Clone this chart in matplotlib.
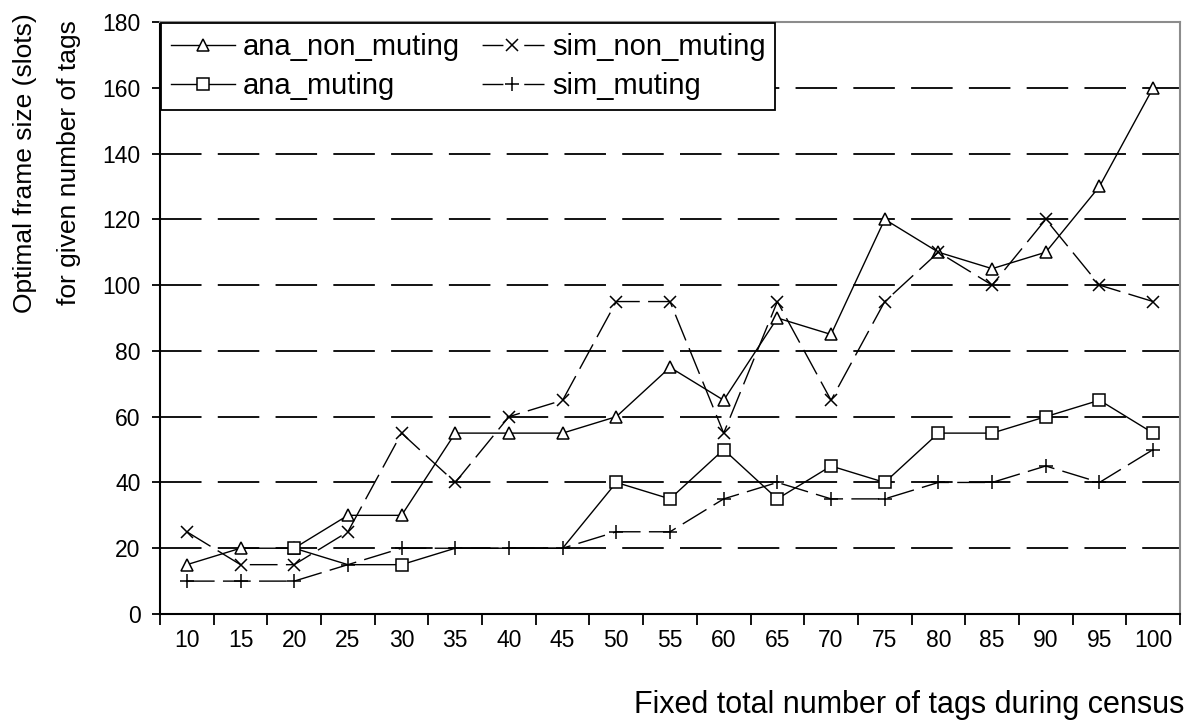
import matplotlib
matplotlib.use("Agg")
import matplotlib.pyplot as plt
import numpy as np

plt.rcParams["font.family"] = ["Liberation Sans", "DejaVu Sans"]

# ── data ──────────────────────────────────────────────────────────────────────
tags = [10, 15, 20, 25, 30, 35, 40, 45, 50, 55, 60, 65, 70, 75, 80, 85, 90, 95, 100]
ana_non_muting = [15, 20, 20, 30, 30, 55, 55, 55, 60, 75, 65, 90, 85, 120, 110, 105, 110, 130, 160]
sim_non_muting = [25, 15, 15, 25, 55, 40, 60, 65, 95, 95, 55, 95, 65, 95, 110, 100, 120, 100, 95]
ana_muting = [np.nan, np.nan, 20, 15, 15, 20, 20, 20, 40, 35, 50, 35, 45, 40, 55, 55, 60, 65, 55]
sim_muting = [10, 10, 10, 15, 20, 20, 20, 20, 25, 25, 35, 40, 35, 35, 40, 40, 45, 40, 50]
y_ticks = [0, 20, 40, 60, 80, 100, 120, 140, 160, 180]

x = np.arange(len(tags))

fig = plt.figure(figsize=(11.98, 7.26), dpi=100)
ax = fig.add_axes([160 / 1198, 112 / 726, 1020 / 1198, 592 / 726])

# ── gridlines ─────────────────────────────────────────────────────────────────
for v in y_ticks[1:]:
    ax.axhline(v, color="black", lw=1.3, ls=(0, (23, 9)), zorder=1)

line_kw = dict(color="black", lw=1.0, mfc="white", mec="black", mew=1.1, zorder=3)
dash = (0, (20, 6))

ax.plot(x, ana_non_muting, ls="-", marker="^", ms=9, label="ana_non_muting", **line_kw)
ax.plot(x, ana_muting, ls="-", marker="s", ms=9, label="ana_muting",
        markevery=[2, 4] + list(range(8, 19)), **line_kw)
ax.plot(x, sim_non_muting, ls=dash, marker="x", ms=8, label="sim_non_muting", **line_kw)
ax.plot(x, sim_muting, ls=dash, marker="+", ms=10, label="sim_muting", **line_kw)

# ── axes ──────────────────────────────────────────────────────────────────────
ax.set_xlim(-0.5, len(tags) - 0.5)
ax.set_ylim(0, 180)
ax.set_yticks(y_ticks)
ax.set_xticks(x)
ax.set_xticklabels([str(t) for t in tags])
ax.set_xticks(np.arange(-0.5, len(tags)), minor=True)
ax.tick_params(axis="x", which="major", length=0, pad=11, labelsize=16.5)
ax.tick_params(axis="x", which="minor", length=8, width=1.3, direction="out")
ax.tick_params(axis="y", length=6, width=1.3, direction="out", pad=8, labelsize=16.5)

for side in ("left", "bottom"):
    ax.spines[side].set_color("black")
    ax.spines[side].set_linewidth(1.5)
for side in ("top", "right"):
    ax.spines[side].set_color("#8c8c8c")
    ax.spines[side].set_linewidth(1.5)

leg = ax.legend(
    ncol=2,
    loc="upper left",
    bbox_to_anchor=(0.0, 1.0),
    frameon=True,
    fancybox=False,
    framealpha=1,
    edgecolor="black",
    fontsize=21,
    handlelength=2.2,
    handletextpad=0.27,
    columnspacing=0.68,
    labelspacing=0.39,
    borderpad=0.33,
    borderaxespad=0.05,
)
leg.get_frame().set_linewidth(1.3)
leg.set_zorder(5)
# sim handles: dash, gap round the marker, dash
for h in leg.get_lines()[2:]:
    h.set_linestyle((-1.5, (15, 15)))

fig.text(0.989, 1 - 705 / 726, "Fixed total number of tags during census",
         ha="right", va="center", fontsize=22)
fig.text(47 / 1198, 1 - 163 / 726, "Optimal frame size (slots)\nfor given number of tags",
         rotation=90, ha="center", va="center", multialignment="center",
         fontsize=19, linespacing=2.1)

fig.savefig("out.png", dpi=100)
